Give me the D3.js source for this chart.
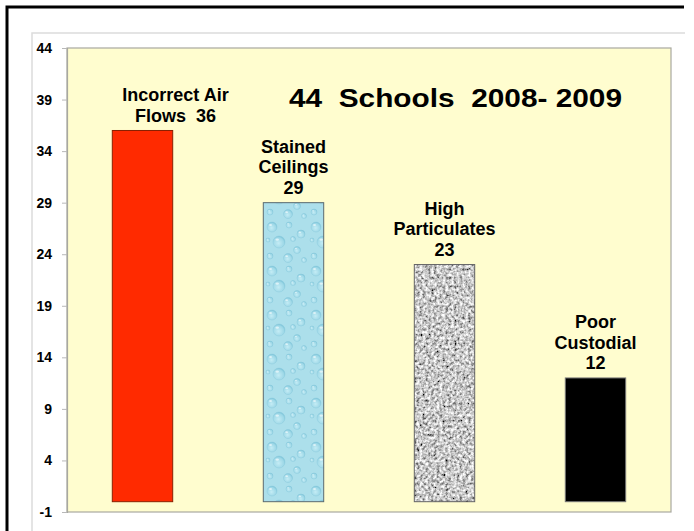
<!DOCTYPE html>
<html>
<head>
<meta charset="utf-8">
<script src="https://cdn.jsdelivr.net/npm/d3@7"></script>
<style>
  html, body { margin: 0; padding: 0; background: #ffffff; }
  svg { display: block; font-family: "Liberation Sans", Arial, sans-serif; }
</style>
</head>
<body>
<svg id="chart" width="694" height="531"></svg>
<script>
// ---- data ----
const categories = ["Incorrect Air Flows", "Stained Ceilings", "High Particulates", "Poor Custodial"];
const values = [36, 29, 23, 12];
const labelLines = [
  ["Incorrect Air", "Flows  36"],
  ["Stained", "Ceilings", "29"],
  ["High", "Particulates", "23"],
  ["Poor", "Custodial", "12"]
];
const yTicks = [-1, 4, 9, 14, 19, 24, 29, 34, 39, 44];
const title = "44  Schools  2008- 2009";

// ---- layout ----
const svg = d3.select("#chart");
const plot = { left: 67, top: 48, right: 671, bottom: 512 };

// outer frame lines
svg.append("path").attr("d", "M7,531V7H684").attr("fill", "none")
  .attr("stroke", "#000").attr("stroke-width", 3);
svg.append("path").attr("d", "M32,531V33H685").attr("fill", "none")
  .attr("stroke", "#dcdcdc").attr("stroke-width", 1.5);

const x = d3.scaleBand().domain(categories).range([plot.left, plot.right])
  .paddingInner(0.6).paddingOuter(0.3);
const y = d3.scaleLinear().domain([-1, 44]).range([plot.bottom, plot.top]);

// defs: patterns
const defs = svg.append("defs");

// water droplet pattern
const drop = defs.append("radialGradient").attr("id", "dropGrad")
  .attr("cx", "0.45").attr("cy", "0.6").attr("r", "0.6");
drop.append("stop").attr("offset", "0").attr("stop-color", "#c4ecf5");
drop.append("stop").attr("offset", "0.75").attr("stop-color", "#9ed8e7");
drop.append("stop").attr("offset", "1").attr("stop-color", "#78c2d8");

const pat = defs.append("pattern").attr("id", "water")
  .attr("patternUnits", "userSpaceOnUse").attr("width", 44).attr("height", 44);
pat.append("rect").attr("width", 44).attr("height", 44).attr("fill", "#acdfeb");
const drops = [[8,7,5],[25,5,3],[37,14,4],[15,22,6],[33,30,3.5],[6,36,3],[24,38,4.5],[40,40,2.5],[29,19,2.5],[4,20,2]];
drops.forEach(d => {
  pat.append("circle").attr("cx", d[0]).attr("cy", d[1]).attr("r", d[2])
    .attr("fill", "url(#dropGrad)").attr("stroke", "#8ccbdd").attr("stroke-width", 0.5);
  pat.append("ellipse").attr("cx", d[0] - d[2]*0.3).attr("cy", d[1] - d[2]*0.4)
    .attr("rx", d[2]*0.3).attr("ry", d[2]*0.2).attr("fill", "#ffffff").attr("opacity", 0.6);
});

// granite filter
const gf = defs.append("filter").attr("id", "granite")
  .attr("x", 0).attr("y", 0).attr("width", 1).attr("height", 1);
gf.append("feTurbulence").attr("type", "fractalNoise").attr("baseFrequency", 0.35)
  .attr("numOctaves", 3).attr("seed", 4).attr("result", "noise");
gf.append("feColorMatrix").attr("in", "noise").attr("type", "matrix")
  .attr("values", "1.7 0 0 0 -0.27  1.7 0 0 0 -0.27  1.7 0 0 0 -0.27  0 0 0 0 1")
  .attr("result", "gray");
gf.append("feComposite").attr("in", "gray").attr("in2", "SourceGraphic").attr("operator", "in");

// plot background
svg.append("rect").attr("x", plot.left).attr("y", plot.top)
  .attr("width", plot.right - plot.left).attr("height", plot.bottom - plot.top)
  .attr("fill", "#fffdcf").attr("stroke", "#a8a8a0").attr("stroke-width", 1.2);

// y axis
const yAxis = svg.append("g").attr("transform", `translate(${plot.left},0)`)
  .call(d3.axisLeft(y).tickValues(yTicks).tickSize(5).tickPadding(10).tickFormat(d => String(d)));
yAxis.select(".domain").attr("stroke", "#a8a8a0").attr("stroke-width", 1.2);
yAxis.selectAll(".tick line").attr("stroke", "#b8b8b8");
yAxis.selectAll(".tick text").attr("fill", "#000").attr("font-size", 14)
  .attr("font-weight", "bold").attr("font-family", "Liberation Sans, Arial, sans-serif");

// bars
const fills = ["#ff2a00", "url(#water)", "#999", "#000"];
const strokes = ["#8a2000", "#5a6a70", "#666", "#777"];
const bars = svg.append("g");
categories.forEach((c, i) => {
  const r = bars.append("rect")
    .attr("x", x(c)).attr("width", x.bandwidth())
    .attr("y", y(values[i])).attr("height", y(0) - y(values[i]))
    .attr("fill", fills[i]).attr("stroke", strokes[i]).attr("stroke-width", 1);
  if (i === 2) {
    r.attr("filter", "url(#granite)");
    bars.append("rect")
      .attr("x", x(c)).attr("width", x.bandwidth())
      .attr("y", y(values[i])).attr("height", y(0) - y(values[i]))
      .attr("fill", "none").attr("stroke", strokes[i]).attr("stroke-width", 1);
  }
});

// data labels
const lineH = 20.7;
const labelShift = [33, 0, 0, 0];
const labels = svg.append("g").attr("font-size", 18).attr("font-weight", "bold")
  .attr("text-anchor", "middle").attr("fill", "#000");
categories.forEach((c, i) => {
  const lines = labelLines[i];
  const cx = x(c) + x.bandwidth() / 2 + labelShift[i];
  const lastBase = y(values[i]) - 8.5;
  lines.forEach((t, j) => {
    labels.append("text").attr("x", cx)
      .attr("y", lastBase - (lines.length - 1 - j) * lineH)
      .attr("xml:space", "preserve").style("white-space", "pre").text(t);
  });
});

// title
svg.append("text").attr("x", 455.5).attr("y", 107)
  .attr("text-anchor", "middle").attr("font-size", 26).attr("font-weight", "bold")
  .attr("textLength", 333).attr("lengthAdjust", "spacingAndGlyphs")
  .style("white-space", "pre").text(title);
</script>
</body>
</html>
